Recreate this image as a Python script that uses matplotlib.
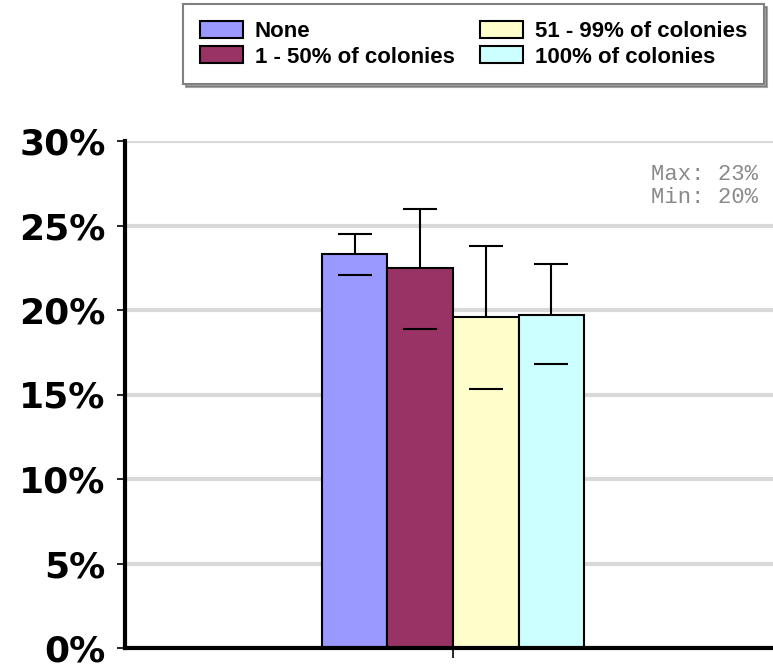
import matplotlib
matplotlib.use("Agg")
import matplotlib.pyplot as plt
import numpy as np

# categories / series
series = ["None", "1 - 50% of colonies", "51 - 99% of colonies", "100% of colonies"]
colors = ["#9999FF", "#993366", "#FFFFCC", "#CCFFFF"]
means = [23.3, 22.5, 19.6, 19.7]
upper = [24.5, 26.0, 23.8, 22.7]
lower = [22.1, 18.9, 15.35, 16.8]
yticks = [0, 5, 10, 15, 20, 25, 30]
note = "Max: 23%\nMin: 20%"

fig = plt.figure(figsize=(7.73, 6.68), dpi=100)
ax = fig.add_axes([125 / 773, 20 / 668, 656 / 773, 507 / 668])

width = 0.1
offsets = (np.arange(len(series)) - 1.5) * width

for i, (name, c) in enumerate(zip(series, colors)):
    x = offsets[i]
    ax.bar(x, means[i], width=width, color=c, edgecolor="black",
           linewidth=1.5, label=name, zorder=3)
    # whisker from the low mark up to the high cap; bar hides the lower part
    ax.errorbar(x, means[i],
                yerr=[[means[i] - lower[i]], [upper[i] - means[i]]],
                fmt="none", ecolor="black", elinewidth=1.5,
                capsize=12, capthick=1.5, zorder=2)
    ax.plot(x, lower[i], marker="_", markersize=24, markeredgewidth=1.5,
            color="black", linestyle="none", zorder=4)

ax.set_xlim(-0.5, 0.5)
ax.set_ylim(0, 30)
ax.set_yticks(yticks)
ax.set_yticklabels([f"{v}%" for v in yticks], fontsize=26,
                   fontweight="bold", family="DejaVu Sans")
ax.set_xticks([0])
ax.set_xticklabels([""])
ax.tick_params(axis="y", length=6, width=1.2, pad=8)
ax.tick_params(axis="x", length=7, width=1.2, direction="out")

ax.grid(axis="y", color="#D9D9D9", linewidth=3, zorder=0)
ax.set_axisbelow(True)
for s in ["top", "right"]:
    ax.spines[s].set_visible(False)
ax.spines["left"].set_linewidth(3)
ax.spines["bottom"].set_linewidth(3)
ax.spines["left"].set_zorder(5)
ax.spines["bottom"].set_zorder(5)

ax.text(758 / 773, 1 - 164 / 668, note, transform=fig.transFigure,
        ha="right", va="top", family="Liberation Mono", fontsize=16,
        color="#8A8A8A", linespacing=1.15)

leg = fig.legend(loc="upper left", bbox_to_anchor=(183 / 773, 1 - 4 / 668),
                 ncol=2, frameon=True, fancybox=False, shadow=True,
                 borderaxespad=0, borderpad=0.75, handlelength=1.94,
                 handleheight=0.8, handletextpad=0.54, columnspacing=1.13,
                 labelspacing=0.2,
                 prop={"family": "Liberation Sans", "weight": "bold", "size": 16})
leg.get_frame().set_edgecolor("#808080")
leg.get_frame().set_linewidth(1.5)

fig.savefig("out.png", dpi=100)
